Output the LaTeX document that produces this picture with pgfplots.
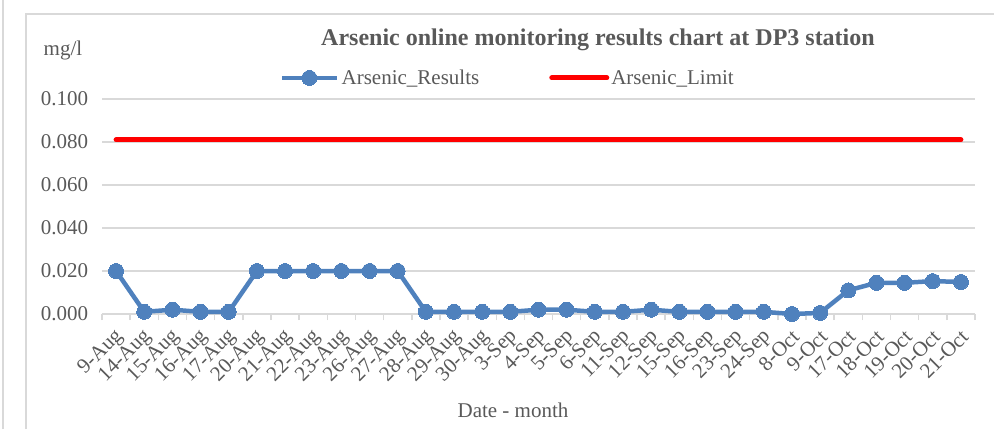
\documentclass[border=0pt]{standalone}
\usepackage{pgfplots}
\pgfplotsset{compat=1.18}
\usepackage{fontspec}
\setmainfont{Liberation Serif}
\definecolor{blu}{HTML}{4F81BD}
\definecolor{txt}{HTML}{595959}
\definecolor{grd}{HTML}{D9D9D9}
\pgfplotstableread{
i val
0 0.020
1 0.001
2 0.002
3 0.001
4 0.001
5 0.020
6 0.020
7 0.020
8 0.020
9 0.020
10 0.020
11 0.001
12 0.001
13 0.001
14 0.001
15 0.002
16 0.002
17 0.001
18 0.001
19 0.002
20 0.001
21 0.001
22 0.001
23 0.001
24 0.000
25 0.0005
26 0.011
27 0.0145
28 0.0145
29 0.0153
30 0.0149
}\results
\pgfplotstableread{
i val
0 0.081
30 0.081
}\limit
\begin{document}
\begin{tikzpicture}[x=1pt,y=1pt]
\path[use as bounding box] (0,0) rectangle (994,429);
\draw[grd, line width=1.5pt] (3,0) -- (3,429);
\draw[grd, line width=1.5pt] (26,0) -- (26,415) -- (994,415);
\node[txt, font=\fontsize{24}{28}\selectfont\bfseries] at (598,389) {Arsenic online monitoring results chart at DP3 station};
\node[txt, font=\fontsize{21}{24}\selectfont] at (63,379) {mg/l};
\node[txt, font=\fontsize{21}{24}\selectfont] at (513,19) {Date - month};
\begin{axis}[
  at={(102pt,115pt)}, anchor=south west,
  scale only axis, width=873pt, height=215pt,
  xmin=-0.5, xmax=30.5, ymin=0, ymax=0.1,
  axis line style={draw=none},
  xtick={0,...,30},
  xticklabels={9-Aug,14-Aug,15-Aug,16-Aug,17-Aug,20-Aug,21-Aug,22-Aug,23-Aug,26-Aug,27-Aug,28-Aug,29-Aug,30-Aug,3-Sep,4-Sep,5-Sep,6-Sep,11-Sep,12-Sep,15-Sep,16-Sep,23-Sep,24-Sep,8-Oct,9-Oct,17-Oct,18-Oct,19-Oct,20-Oct,21-Oct},
  major x tick style={draw=none},
  minor xtick={-0.5,0.5,...,30.5},
  minor x tick style={grd, line width=1.5pt},
  minor tick length=6pt,
  xtick pos=bottom, tick align=outside,
  ytick={0,0.02,...,0.1},
  ymajorgrids, major grid style={grd, line width=1.5pt},
  major y tick style={draw=none},
  yticklabel style={/pgf/number format/fixed, /pgf/number format/fixed zerofill, /pgf/number format/precision=3, /pgf/number format/assume math mode=true, txt, font=\fontsize{21}{24}\selectfont, xshift=-6pt},
  xticklabel style={rotate=45, anchor=east, txt, font=\fontsize{21}{24}\selectfont, inner sep=1pt, yshift=-13.5pt, xshift=-7pt},
  scaled y ticks=false,
  legend style={at={(0.465,1.098)}, anchor=center, draw=none, fill=none, legend columns=2, font=\fontsize{21}{24}\selectfont, text=txt, /tikz/every even column/.append style={column sep=68pt}, inner sep=1pt},
  legend image code/.code={\draw[mark repeat=2,mark phase=2,#1] plot coordinates {(0pt,0pt) (27pt,0pt) (55pt,0pt)};},
  clip=false,
]
\addplot[blu, line width=4.5pt, mark=*, mark size=7.5pt, mark options={line width=0pt}] table[x=i,y=val] {\results};
\addlegendentry{Arsenic\_Results}
\addplot[red, line width=5pt, line cap=round, no marks] table[x=i,y=val] {\limit};
\addlegendentry{Arsenic\_Limit}
\end{axis}
\end{tikzpicture}
\end{document}
